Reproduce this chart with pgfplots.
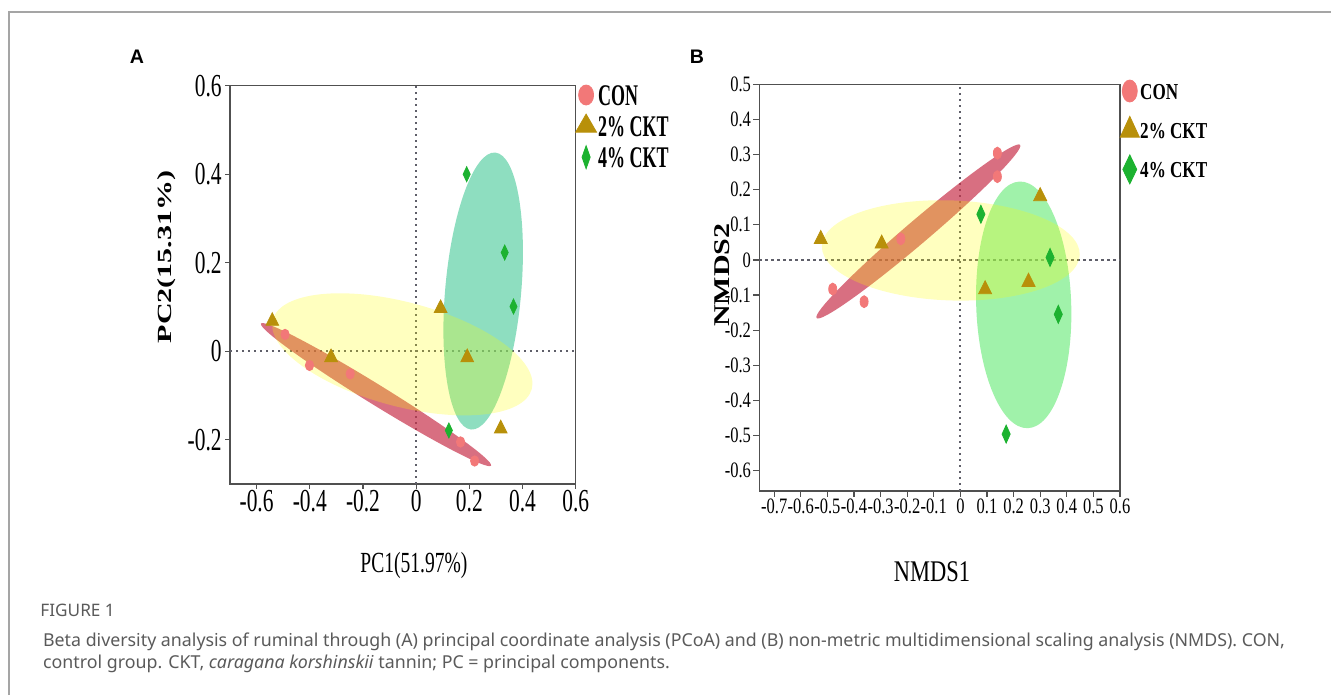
\documentclass[border=0pt]{standalone}
\usepackage{fontspec}
\setmainfont{Liberation Serif}
\usepackage{pgfplots}
\pgfplotsset{compat=1.18}
\newfontfamily\csA[FakeStretch=0.67]{Liberation Serif}
\newfontfamily\csL[FakeStretch=0.6]{Liberation Serif}
\newfontfamily\csB[FakeStretch=0.75]{Liberation Serif}
\newfontfamily\capfont{Noto Sans}
\newfontfamily\panfont{Liberation Sans}
\definecolor{conc}{RGB}{242,120,120}
\definecolor{ckt2}{RGB}{184,144,10}
\definecolor{ckt4}{RGB}{28,178,48}
\definecolor{ellred}{RGB}{200,50,75}
\definecolor{ellyel}{RGB}{255,255,0}
\definecolor{ellgrA}{RGB}{67,200,150}
\definecolor{ellgrB}{RGB}{97,233,113}
\definecolor{axgray}{RGB}{80,80,80}
\definecolor{dotgray}{RGB}{95,95,105}
\definecolor{capgray}{RGB}{90,90,90}
\definecolor{framegray}{RGB}{165,165,165}
\newcommand{\rA}{\rule[-3.3pt]{0pt}{15.8pt}}
\newcommand{\rB}{\rule[-5pt]{0pt}{19.8pt}}
\pgfplotsset{
  base/.style={
    scale only axis, anchor=south west,
    axis line style={axgray, line width=0.65pt},
    every tick/.append style={axgray, line width=0.6pt},
    tick align=outside, tick pos=left,
    /pgf/number format/assume math mode=true,
    legend cell align=left,
  },
  zline/.style={dotgray, line width=1pt, dash pattern=on 1.2pt off 1.8pt, forget plot},
}
\begin{document}
\begin{tikzpicture}
\useasboundingbox (0,0) rectangle (665.5pt,347.5pt);
\draw[framegray, line width=0.8pt] (4.5pt,0pt) -- (4.5pt,341.5pt) -- (665.5pt,341.5pt);
\node[font=\panfont\bfseries\fontsize{9.8pt}{10pt}\selectfont] at (68.5pt,319pt) {A};
\node[font=\panfont\bfseries\fontsize{9.8pt}{10pt}\selectfont] at (348.5pt,319pt) {B};

% ---------------- Panel A ----------------
\begin{axis}[base,
  at={(115pt,105.5pt)}, width=172.85pt, height=199.15pt,
  xmin=-0.7, xmax=0.6, ymin=-0.3, ymax=0.6,
  xtick={-0.6,-0.4,-0.2,0,0.2,0.4,0.6},
  ytick={-0.2,0,0.2,0.4,0.6},
  major tick length=2.5pt,
  xticklabel style={font=\csA\fontsize{16pt}{16pt}\selectfont, inner sep=0pt, anchor=north, yshift=-0.5pt},
  yticklabel style={font=\csA\fontsize{16pt}{16pt}\selectfont, inner sep=0pt, anchor=east, xshift=-1.5pt},
  xlabel={PC1(51.97\%)},
  xlabel style={font=\csA\fontsize{14.6pt}{15pt}\selectfont, at={(rel axis cs:0.532,0)}, anchor=center, yshift=-40.5pt},
  ylabel={\scalebox{1}[0.67]{\bfseries PC2(15.31\%)}},
  ylabel style={font=\fontsize{15pt}{15pt}\selectfont, at={(rel axis cs:-0.1822,0.57)}, anchor=center},
  legend image code/.code={\pgfpathrectangle{\pgfpoint{-5pt}{-2pt}}{\pgfpoint{10pt}{4pt}}\pgfusepath{use as bounding box}\draw[#1] plot coordinates {(0pt,-0.3pt)};},
  legend style={at={(rel axis cs:1,1)}, anchor=north west, xshift=0pt, yshift=2.85pt,
    draw=none, fill=none, inner sep=0pt, row sep=1.55pt, column sep=1pt,
    nodes={inner sep=0pt},
    font=\csL\bfseries\fontsize{15pt}{15pt}\selectfont},
]
\addlegendimage{mark=*, color=conc, mark size=5pt, mark options={xscale=0.75}}
\addlegendentry{\rA CON}
\addlegendimage{mark=triangle*, color=ckt2, mark size=6pt}
\addlegendentry{\rA 2\% CKT}
\addlegendimage{mark=diamond*, color=ckt4, mark size=5.75pt, mark options={xscale=0.47}}
\addlegendentry{\rA 4\% CKT}

\addplot[zline] coordinates {(0,-0.3) (0,0.6)};
\addplot[zline] coordinates {(-0.7,0) (0.6,0)};

\fill[ellred, fill opacity=0.7, rotate around={-31.7:(axis cs:-0.151,-0.098)}]
  (axis cs:-0.151,-0.098) ellipse [x radius=67.6pt, y radius=5pt];
\fill[ellgrA, fill opacity=0.6, rotate around={85:(axis cs:0.252,0.136)}]
  (axis cs:0.252,0.136) ellipse [x radius=69.5pt, y radius=19pt];
\fill[ellyel, fill opacity=0.25, rotate around={-15:(axis cs:-0.052,-0.007)}]
  (axis cs:-0.052,-0.007) ellipse [x radius=67pt, y radius=26pt];

\addplot[only marks, mark=*, color=conc, mark size=2.6pt, mark options={xscale=0.8}, forget plot]
  coordinates {(-0.493,0.038) (-0.401,-0.032) (-0.248,-0.051) (0.167,-0.205) (0.220,-0.248)};
\addplot[only marks, mark=triangle*, color=ckt2, mark size=4.2pt, mark options={xscale=0.87}, forget plot]
  coordinates {(-0.541,0.068) (-0.320,-0.014) (0.092,0.097) (0.192,-0.014) (0.318,-0.175)};
\addplot[only marks, mark=diamond*, color=ckt4, mark size=3.75pt, mark options={xscale=0.63}, forget plot]
  coordinates {(0.190,0.400) (0.333,0.223) (0.366,0.101) (0.123,-0.179)};
\end{axis}

% ---------------- Panel B ----------------
\begin{axis}[base,
  at={(379.65pt,102pt)}, width=180.35pt, height=203.35pt,
  xmin=-0.756, xmax=0.6, ymin=-0.658, ymax=0.5,
  xtick={-0.7,-0.6,-0.5,-0.4,-0.3,-0.2,-0.1,0,0.1,0.2,0.3,0.4,0.5,0.6},
  ytick={-0.6,-0.5,-0.4,-0.3,-0.2,-0.1,0,0.1,0.2,0.3,0.4,0.5},
  major tick length=3pt,
  xticklabel style={font=\csB\fontsize{11pt}{11pt}\selectfont, inner sep=0pt, anchor=north, yshift=-0.5pt},
  yticklabel style={font=\csB\fontsize{11pt}{11pt}\selectfont, inner sep=0pt, anchor=east, xshift=-1pt},
  xlabel={NMDS1},
  xlabel style={font=\csB\fontsize{15pt}{15pt}\selectfont, at={(rel axis cs:0.479,0)}, anchor=center, yshift=-40.5pt},
  ylabel={\scalebox{1}[0.75]{\bfseries NMDS2}},
  ylabel style={font=\fontsize{15pt}{15pt}\selectfont, at={(rel axis cs:-0.1034,0.531)}, anchor=center},
  legend image code/.code={\pgfpathrectangle{\pgfpoint{-4.7pt}{-2pt}}{\pgfpoint{9.4pt}{4pt}}\pgfusepath{use as bounding box}\draw[#1] plot coordinates {(0pt,-2.5pt)};},
  legend style={at={(rel axis cs:1,1)}, anchor=north west, xshift=0pt, yshift=7.5pt,
    draw=none, fill=none, inner sep=0pt, row sep=3.3pt, column sep=0.5pt,
    nodes={inner sep=0pt},
    font=\csB\bfseries\fontsize{11.4pt}{12pt}\selectfont},
]
\addlegendimage{mark=*, color=conc, mark size=5.5pt, mark options={xscale=0.68}}
\addlegendentry{\rB CON}
\addlegendimage{mark=triangle*, color=ckt2, mark size=6.9pt, mark options={xscale=0.8}}
\addlegendentry{\rB 2\% CKT}
\addlegendimage{mark=diamond*, color=ckt4, mark size=7.25pt, mark options={xscale=0.64}}
\addlegendentry{\rB 4\% CKT}

\addplot[zline] coordinates {(0,-0.658) (0,0.5)};
\addplot[zline] coordinates {(-0.756,0) (0.6,0)};

\fill[ellred, fill opacity=0.7, rotate around={40.4:(axis cs:-0.158,0.081)}]
  (axis cs:-0.158,0.081) ellipse [x radius=66.8pt, y radius=5.8pt];
\fill[ellgrB, fill opacity=0.6, rotate around={91.9:(axis cs:0.238,-0.128)}]
  (axis cs:0.238,-0.128) ellipse [x radius=61.7pt, y radius=23.75pt];
\fill[ellyel, fill opacity=0.25, rotate around={-2:(axis cs:-0.036,0.027)}]
  (axis cs:-0.036,0.027) ellipse [x radius=64.5pt, y radius=25pt];

\addplot[only marks, mark=*, color=conc, mark size=3pt, mark options={xscale=0.67}, forget plot]
  coordinates {(0.139,0.304) (0.139,0.237) (-0.224,0.060) (-0.480,-0.083) (-0.362,-0.119)};
\addplot[only marks, mark=triangle*, color=ckt2, mark size=4.33pt, mark options={xscale=0.87}, forget plot]
  coordinates {(-0.525,0.059) (-0.296,0.046) (0.093,-0.084) (0.256,-0.063) (0.300,0.181)};
\addplot[only marks, mark=diamond*, color=ckt4, mark size=4.5pt, mark options={xscale=0.6}, forget plot]
  coordinates {(0.077,0.130) (0.337,0.007) (0.368,-0.155) (0.172,-0.496)};
\end{axis}

% ---------------- Caption ----------------
\node[anchor=base west, inner sep=0pt, font=\capfont\fontsize{8.6pt}{9pt}\selectfont, text=capgray] at (20pt,39.25pt) {FIGURE 1};
\node[anchor=base west, inner sep=0pt, font=\capfont\fontsize{8.9pt}{10pt}\selectfont, text=capgray] at (21.35pt,24pt)
  {Beta diversity analysis of ruminal through \textbf{(A)} principal coordinate analysis (PCoA) and \textbf{(B)} non-metric multidimensional scaling analysis (NMDS). CON,};
\node[anchor=base west, inner sep=0pt, font=\capfont\fontsize{8.9pt}{10pt}\selectfont, text=capgray] at (21.35pt,13pt)
  {control group. CKT, \textit{caragana korshinskii} tannin; PC = principal components.};
\end{tikzpicture}
\end{document}
